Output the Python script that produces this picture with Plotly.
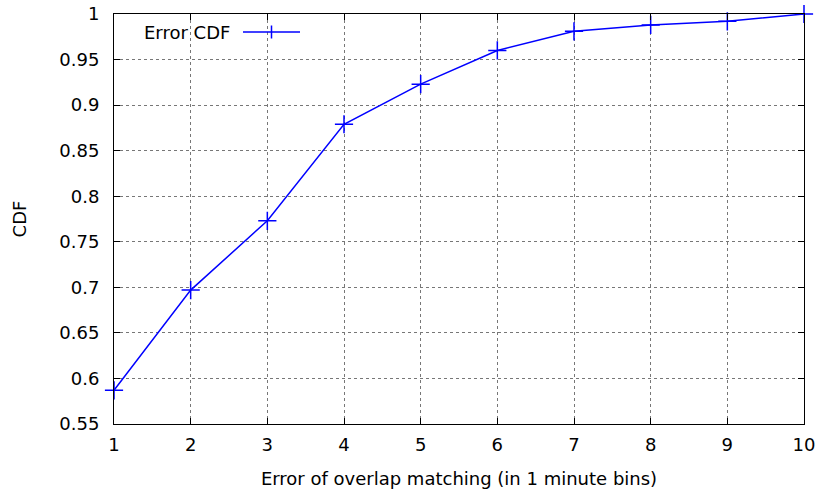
import plotly.graph_objects as go

x_bins = [1, 2, 3, 4, 5, 6, 7, 8, 9, 10]
cdf_values = [0.587, 0.697, 0.773, 0.879, 0.923, 0.960, 0.981, 0.988, 0.992, 1.0]
y_ticks = [0.55, 0.6, 0.65, 0.7, 0.75, 0.8, 0.85, 0.9, 0.95, 1.0]
y_tick_labels = ["0.55", "0.6", "0.65", "0.7", "0.75", "0.8", "0.85", "0.9", "0.95", "1"]
series_name = "Error CDF"

font = dict(family="DejaVu Sans", size=18, color="black")

fig = go.Figure()
fig.add_trace(go.Scatter(
    x=x_bins, y=cdf_values, mode="lines+markers", name=series_name,
    line=dict(color="#0000ff", width=1.5),
    marker=dict(symbol="cross-thin", size=13, line=dict(color="#0000ff", width=1.5)),
    showlegend=False, cliponaxis=False,
))

# Legend (gnuplot style: text then sample)
fig.add_annotation(xref="paper", yref="paper", x=(232 - 114) / 690, y=(424 - 32) / 410,
                   text=series_name, showarrow=False, xanchor="right", yanchor="middle",
                   font=font)
lx0, lx1, ly = (243 - 114) / 690, (300 - 114) / 690, (424 - 32) / 410
lxm = (lx0 + lx1) / 2
fig.add_shape(type="line", xref="paper", yref="paper", x0=lx0, x1=lx1, y0=ly, y1=ly,
              line=dict(color="#0000ff", width=1.5))
fig.add_shape(type="line", xref="paper", yref="paper", x0=lxm, x1=lxm,
              y0=ly - 6.5 / 410, y1=ly + 6.5 / 410, line=dict(color="#0000ff", width=1.5))

axis_common = dict(
    showline=True, linecolor="black", linewidth=1, mirror="allticks",
    ticks="inside", ticklen=6, tickcolor="black", tickwidth=1,
    showgrid=True, gridcolor="#777", griddash="dot", gridwidth=1,
    zeroline=False, tickfont=font, automargin=False,
)

fig.update_layout(
    width=817, height=489,
    margin=dict(l=114, r=13, t=14, b=65),
    paper_bgcolor="white", plot_bgcolor="white",
    font=font,
    xaxis=dict(range=[1, 10], tickvals=x_bins, ticklabelstandoff=4,
               title=dict(text="Error of overlap matching (in 1 minute bins)", font=font, standoff=20),
               **axis_common),
    yaxis=dict(range=[0.55, 1.0], tickvals=y_ticks, ticktext=y_tick_labels, ticklabelstandoff=10,
               title=dict(text="CDF", font=font, standoff=28),
               **axis_common),
)

fig.write_html("out.html")
